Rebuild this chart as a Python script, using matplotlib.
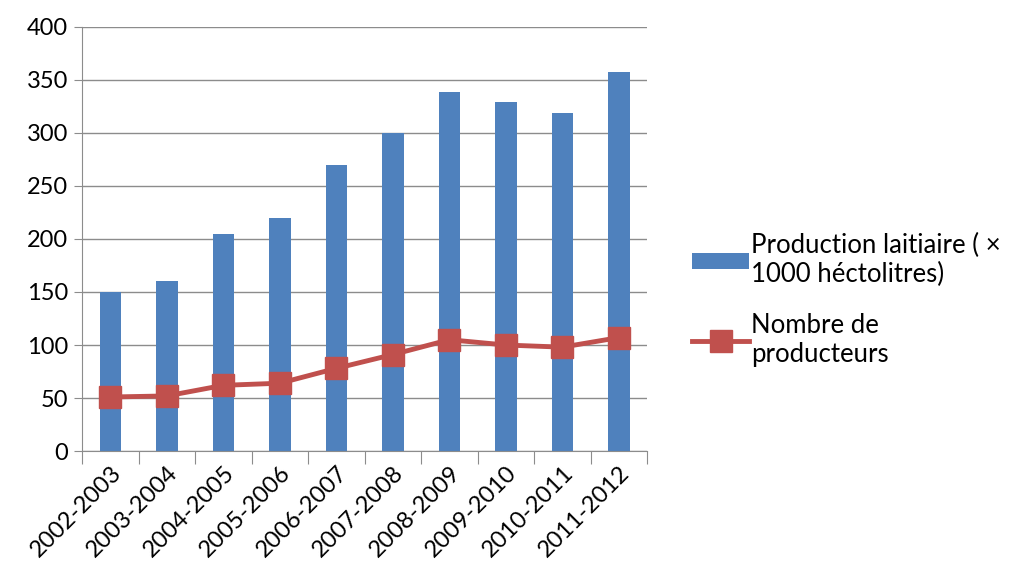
import numpy as np
import matplotlib
matplotlib.use("Agg")
import matplotlib.pyplot as plt

# data
saisons = ["2002-2003", "2003-2004", "2004-2005", "2005-2006", "2006-2007",
           "2007-2008", "2008-2009", "2009-2010", "2010-2011", "2011-2012"]
production = [150, 160, 205, 220, 270, 300, 339, 329, 319, 357]
producteurs = [51, 52, 62, 64, 78, 91, 105, 100, 98, 107]

plt.rcParams['font.family'] = ['Lato', 'DejaVu Sans']

fig = plt.figure(figsize=(10.2, 5.71), dpi=100)
ax = fig.add_axes([0.0804, 0.21, 0.554, 0.743])

x = np.arange(len(saisons))
bars = ax.bar(x, production, width=0.38, color='#4F81BD', zorder=2,
              label='Production laitiaire ( ×\n1000 héctolitres)')
line, = ax.plot(x, producteurs, color='#C0504D', lw=3.5, marker='s', ms=16,
                zorder=3, label='Nombre de\nproducteurs')

ax.set_ylim(0, 400)
ax.set_yticks(range(0, 401, 50))
ax.set_xlim(-0.5, len(saisons) - 0.5)
ax.yaxis.grid(True, color='#8c8c8c', lw=1)
ax.set_axisbelow(True)

# category ticks sit between bars, labels centred on bars
ax.set_xticks(np.arange(-0.5, len(saisons)), minor=False)
ax.set_xticklabels([])
ax.set_xticks(x, minor=True)
ax.set_xticklabels(saisons, minor=True, rotation=45, ha='right',
                   rotation_mode='anchor', fontsize=17)
ax.tick_params(axis='x', which='minor', length=0, pad=8)
ax.tick_params(axis='x', which='major', length=9, color='#8c8c8c')
ax.tick_params(axis='y', length=6, color='#8c8c8c', labelsize=17, pad=4)

for s in ['top', 'right']:
    ax.spines[s].set_visible(False)
for s in ['left', 'bottom']:
    ax.spines[s].set_color('#8c8c8c')

leg = fig.legend(handles=[bars, line], loc='center left',
                 bbox_to_anchor=(0.656, 0.475), frameon=False,
                 fontsize=18.5, handlelength=2.2, handleheight=0.6,
                 handletextpad=0.1, labelspacing=1.0)

fig.savefig('out.png', dpi=100)
